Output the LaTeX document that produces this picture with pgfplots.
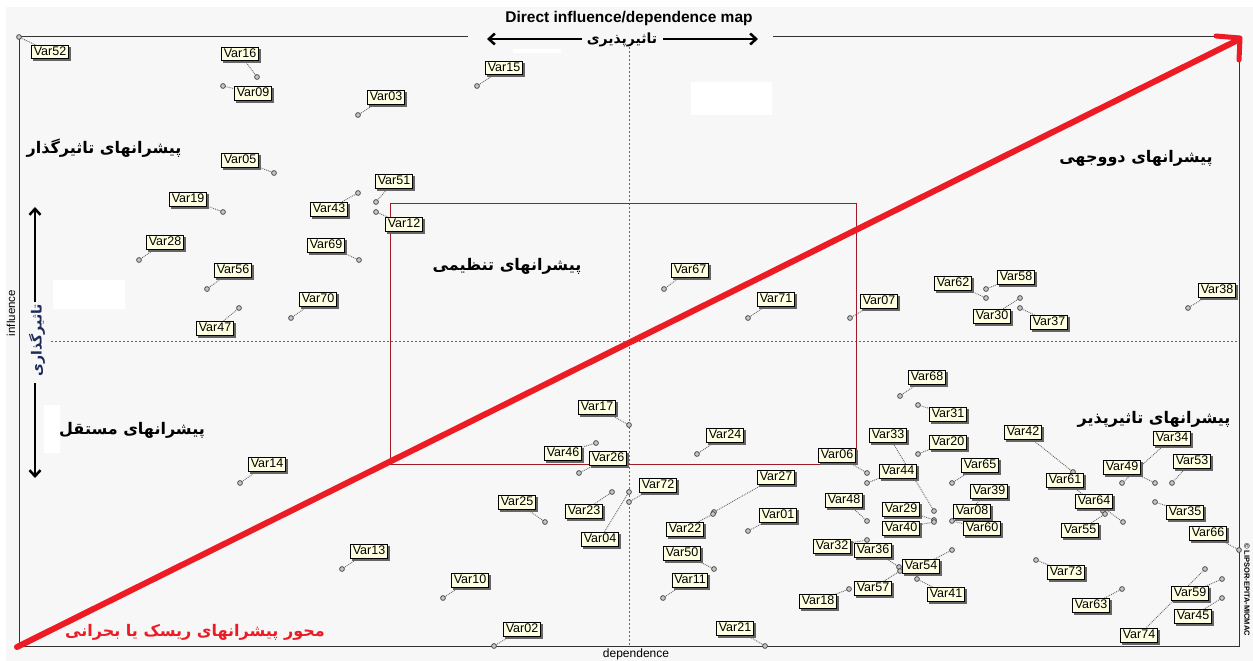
\documentclass[border=0pt]{standalone}
\usepackage{pgfplots}
\pgfplotsset{compat=1.18}
\usepackage{pgfplotstable}
\usepackage{fontspec}
\setmainfont{Liberation Sans}
\newfontfamily\fa[Script=Arabic]{DejaVu Sans}
\TeXXeTstate=1
\usetikzlibrary{arrows.meta}
\definecolor{bgcol}{HTML}{F7F7F7}
\definecolor{labelfill}{HTML}{FFFFE1}
\definecolor{micred}{HTML}{ED1C24}
\definecolor{boxred}{HTML}{A01A2A}
\definecolor{navy}{HTML}{1F2A5A}
\tikzset{labelbox/.style={anchor=center, font=\fontsize{12.5}{12.5}\selectfont,
    line width=0.7pt, inner xsep=2pt, inner ysep=1.6pt,
    text height=9pt, text depth=1.5pt}}

\pgfplotstableread{
name px py lx ly
Var52 19 37 50 52
Var16 257 77 240 54
Var09 223 86 253 93
Var03 358 115 386 97
Var05 274 173 240 160
Var19 223 212 188 199
Var51 376 202 394 181
Var43 358 193 329 209
Var12 376 212 404 224
Var28 139 260 165 242
Var69 359 260 326 245
Var56 207 289 233 270
Var70 291 318 318 299
Var47 239 308 215 328
Var15 477 86 504 68
Var67 664 289 690 270
Var71 748 318 776 299
Var62 986 298 953 283
Var58 986 289 1016 277
Var30 1020 298 992 316
Var37 1020 308 1049 322
Var07 850 318 879 301
Var38 1188 308 1217 290
Var14 240 483 267 464
Var13 342 569 369 551
Var17 629 425 597 407
Var24 697 454 725 435
Var46 596 443 563 453
Var26 579 473 608 458
Var72 629 502 658 485
Var25 545 522 517 502
Var23 612 492 584 511
Var04 629 492 600 539
Var27 714 512 776 477
Var22 713 514 685 529
Var01 748 531 778 515
Var50 714 569 682 553
Var11 663 598 690 580
Var10 443 598 470 580
Var02 494 646 522 629
Var21 765 646 735 628
Var68 900 396 927 377
Var31 918 405 948 414
Var33 934 511 888 435
Var20 918 454 948 442
Var44 867 483 898 471
Var06 867 473 837 455
Var65 952 483 980 465
Var39 968 512 989 491
Var08 966 514 972 511
Var60 952 521 982 528
Var29 934 520 901 509
Var40 934 522 901 528
Var48 867 521 844 500
Var32 867 540 832 546
Var36 899 567 873 550
Var54 952 550 921 566
Var57 900 571 873 588
Var18 849 589 818 601
Var41 917 579 946 594
Var42 1073 472 1023 432
Var61 1103 511 1065 480
Var64 1123 522 1094 501
Var49 1155 483 1122 467
Var34 1122 483 1172 438
Var53 1172 483 1192 461
Var35 1155 502 1185 512
Var55 1105 514 1080 530
Var66 1239 550 1208 533
Var73 1036 560 1066 572
Var63 1122 589 1091 605
Var59 1222 579 1190 593
Var45 1222 598 1193 616
Var74 1205 569 1139 635
}\vars

\begin{document}
\begin{tikzpicture}[x=1pt,y=1pt]
\useasboundingbox (0,0) rectangle (1253,661);
\begin{axis}[at={(0,0)}, anchor=south west, scale only axis,
  width=1253pt, height=661pt, xmin=0, xmax=1253, ymin=0, ymax=661,
  y dir=reverse, axis lines=none, clip=false]
% background
\fill[white] (axis cs:0,0) rectangle (axis cs:1253,661);
\fill[bgcol] (axis cs:6,7) rectangle (axis cs:1253,661);
% white patches
\fill[white] (axis cs:513,49) rectangle (axis cs:561,53);
\fill[white] (axis cs:691,82) rectangle (axis cs:772,115);
\fill[white] (axis cs:53,280) rectangle (axis cs:125,309);
\fill[white] (axis cs:44,405) rectangle (axis cs:60,453);
% frame
\draw[black!80, line width=1pt] (axis cs:19,37) -- (axis cs:468,37);
\draw[black!80, line width=1pt] (axis cs:773,37) -- (axis cs:1239,37) -- (axis cs:1239,646) -- (axis cs:19,646) -- (axis cs:19,37);
% dashed centre lines
\draw[gray!80!black, line width=0.6pt, dash pattern=on 2pt off 2pt] (axis cs:629,47) -- (axis cs:629,646);
\draw[gray!80!black, line width=0.6pt, dash pattern=on 2pt off 2pt] (axis cs:51,341) -- (axis cs:1239,341);
% red box
\draw[boxred, line width=1pt] (axis cs:390,203) rectangle (axis cs:856,464);
% red critical axis
\draw[micred, line width=6pt, line cap=round] (axis cs:17,647) -- (axis cs:1238,40);
\draw[micred, line width=5pt, line cap=round, line join=round] (axis cs:1216,36) -- (axis cs:1240,38) -- (axis cs:1239,60);
% top arrows
\draw[black, line width=2.5pt, -{Straight Barb[length=6pt, width=11pt, line width=2.5pt]}] (axis cs:582,39) -- (axis cs:487,39);
\draw[black, line width=2.5pt, -{Straight Barb[length=6pt, width=11pt, line width=2.5pt]}] (axis cs:663,39) -- (axis cs:758,39);
\node[font=\fa\bfseries\fontsize{14}{14}\selectfont] at (axis cs:622,40) {\beginR تاثیرپذیری\endR};
% left arrows
\draw[black, line width=2.5pt, -{Straight Barb[length=6pt, width=11pt, line width=2.5pt]}] (axis cs:35,302) -- (axis cs:35,207);
\draw[black, line width=2.5pt, -{Straight Barb[length=6pt, width=11pt, line width=2.5pt]}] (axis cs:35,383) -- (axis cs:35,478);
\node[font=\fa\bfseries\fontsize{14}{14}\selectfont, text=navy, rotate=90] at (axis cs:37,340) {\beginR تاثیرگذاری\endR};
% axis labels
\node[font=\bfseries\fontsize{15.5}{15.5}\selectfont] at (axis cs:629,18) {Direct influence/dependence map};
\node[font=\fontsize{11.5}{11.5}\selectfont, rotate=90] at (axis cs:11,313) {influence};
\node[font=\fontsize{12}{12}\selectfont] at (axis cs:636,654) {dependence};
\node[font=\bfseries\fontsize{7.5}{7.5}\selectfont, rotate=-90] at (axis cs:1247,590) {\textcopyright\,LIPSOR-EPITA-MICMAC};
% quadrant labels
\node[font=\fa\bfseries\fontsize{16}{16}\selectfont] at (axis cs:104,148) {\beginR پیشرانهای تاثیرگذار\endR};
\node[font=\fa\bfseries\fontsize{16}{16}\selectfont] at (axis cs:1136,158) {\beginR پیشرانهای دووجهی\endR};
\node[font=\fa\bfseries\fontsize{16}{16}\selectfont] at (axis cs:507,266) {\beginR پیشرانهای تنظیمی\endR};
\node[font=\fa\bfseries\fontsize{16}{16}\selectfont] at (axis cs:132,430) {\beginR پیشرانهای مستقل\endR};
\node[font=\fa\bfseries\fontsize{16}{16}\selectfont] at (axis cs:1154,419) {\beginR پیشرانهای تاثیرپذیر\endR};
\node[font=\fa\bfseries\fontsize{16}{16}\selectfont, text=micred] at (axis cs:195,632) {\beginR محور پیشرانهای ریسک یا بحرانی\endR};
% connectors
\addplot[draw=black!60, densely dotted, line width=0.9pt, no markers,
  quiver={u=\thisrow{lx}-\thisrow{px}, v=\thisrow{ly}-\thisrow{py}}]
  table[x=px, y=py] {\vars};
% points
\addplot[only marks, mark=*, mark size=2.4pt,
  mark options={draw=black!75, fill=gray!45, line width=0.7pt}]
  table[x=px, y=py] {\vars};
% label shadows
\addplot[draw=none, no markers, point meta=explicit symbolic, nodes near coords,
  nodes near coords style={labelbox, fill=black!60, draw=black!60, text=black!60}]
  table[x expr=\thisrow{lx}+2, y expr=\thisrow{ly}+2, meta=name] {\vars};
% labels
\addplot[draw=none, no markers, point meta=explicit symbolic, nodes near coords,
  nodes near coords style={labelbox, fill=labelfill, draw=black}]
  table[x=lx, y=ly, meta=name] {\vars};
\end{axis}
\end{tikzpicture}
\end{document}
